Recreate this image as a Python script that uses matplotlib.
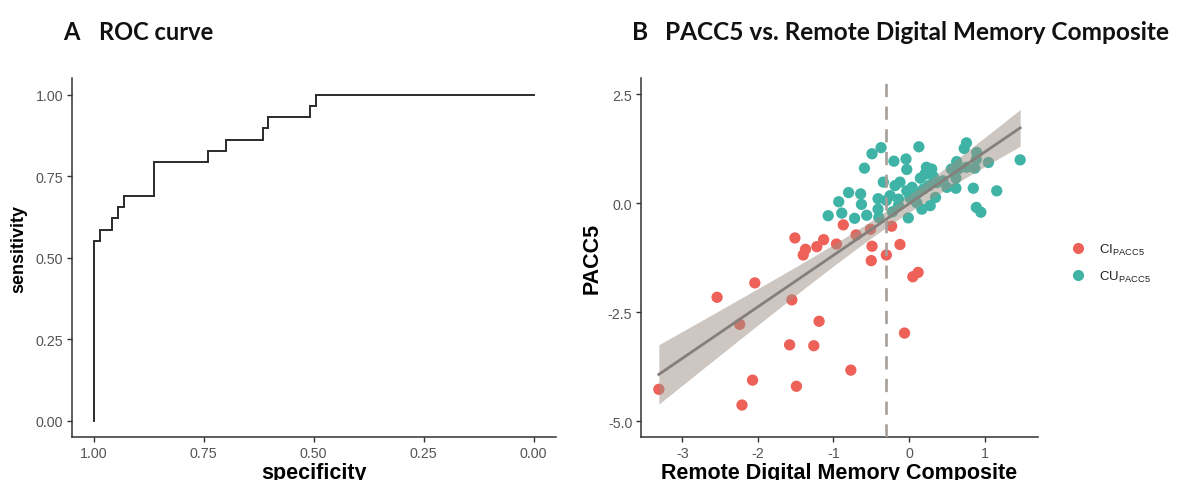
import numpy as np
import matplotlib
matplotlib.use("Agg")
import matplotlib.pyplot as plt
from matplotlib.lines import Line2D

plt.rcParams['font.family'] = ['Liberation Sans', 'DejaVu Sans']

# ---------------- data ----------------
# ROC path (specificity, sensitivity)
roc_specificity = [1.000, 1.000, 0.986, 0.986, 0.959, 0.959, 0.945, 0.945, 0.931, 0.931,
                   0.864, 0.864, 0.740, 0.740, 0.699, 0.699, 0.616, 0.616, 0.603, 0.603,
                   0.508, 0.508, 0.494, 0.494, 0.000]
roc_sensitivity = [0.000, 0.552, 0.552, 0.586, 0.586, 0.621, 0.621, 0.655, 0.655, 0.690,
                   0.690, 0.793, 0.793, 0.828, 0.828, 0.862, 0.862, 0.897, 0.897, 0.931,
                   0.931, 0.966, 0.966, 1.000, 1.000]
roc_ticks = [0.00, 0.25, 0.50, 0.75, 1.00]
roc_ticklabels = ["0.00", "0.25", "0.50", "0.75", "1.00"]

# Scatter: impaired (CI) group
ci_x = [-3.31, -2.54, -2.24, -2.21, -2.04, -2.07, -1.55, -1.58, -1.49, -1.51,
        -1.37, -1.40, -1.22, -1.13, -1.19, -1.26, -0.96, -0.87, -0.77, -0.70,
        -0.51, -0.49, -0.50, -0.30, -0.23, -0.12, -0.06, 0.05, 0.12]
ci_y = [-4.27, -2.16, -2.78, -4.63, -1.83, -4.06, -2.22, -3.25, -4.20, -0.80,
        -1.06, -1.19, -1.00, -0.84, -2.71, -3.27, -0.94, -0.50, -3.83, -0.73,
        -0.60, -0.99, -1.32, -1.19, -0.53, -0.95, -2.98, -1.69, -1.59]

# Scatter: unimpaired (CU) group
cu_x = [-1.07, -0.93, -0.89, -0.80, -0.72, -0.64, -0.63, -0.59, -0.56, -0.49,
        -0.37, -0.41, -0.41, -0.40, -0.34, -0.30, -0.25, -0.20, -0.185, -0.12,
        -0.14, -0.14, -0.22, -0.04, -0.03, -0.03, 0.01, 0.04, -0.01, 0.10,
        0.12, 0.13, 0.15, 0.17, 0.19, 0.21, 0.23, 0.26, 0.28, 0.30,
        0.32, 0.28, 0.35, 0.37, 0.45, 0.56, 0.63, 0.65, 0.62, 0.62,
        0.73, 0.76, 0.76, 0.87, 0.895, 0.89, 0.85, 1.05, 1.16, 0.89,
        0.95, 1.47, 0.50, 0.08]
cu_y = [-0.29, 0.03, -0.23, 0.24, -0.35, 0.21, -0.03, 0.80, -0.28, 1.13,
        1.27, 0.10, -0.14, -0.33, 0.48, 0.06, 0.17, 0.96, 0.40, 0.48,
        0.09, -0.06, -0.20, 1.01, 0.77, 0.28, 0.13, 0.36, -0.34, 0.01,
        0.24, 1.29, 0.57, -0.14, 0.32, 0.66, 0.82, 0.40, 0.70, 0.78,
        0.61, -0.06, 0.13, 0.47, 0.51, 0.78, 0.95, 0.78, 0.57, 0.34,
        1.25, 1.38, 0.82, 0.80, 1.16, 1.00, 0.34, 0.93, 0.28, -0.10,
        -0.21, 0.99, 0.36, 0.20]

cutoff = -0.30
sc_xticks = [-3, -2, -1, 0, 1]
sc_xticklabels = ["-3", "-2", "-1", "0", "1"]
sc_yticks = [-5.0, -2.5, 0.0, 2.5]
sc_yticklabels = ["-5.0", "-2.5", "0.0", "2.5"]
group_labels = [r"CI$_{\mathregular{PACC5}}$", r"CU$_{\mathregular{PACC5}}$"]

# ---------------- styling ----------------
RED = "#EE6158"
TEAL = "#3FB4A6"
SPINE = "#333333"
TICKLAB = "#555555"

fig = plt.figure(figsize=(11.78, 4.81), dpi=100)
W, H = 1178, 481

def add_ax(l, r, t, b):
    return fig.add_axes([l / W, (H - b) / H, (r - l) / W, (b - t) / H])

def style(ax):
    for s in ["top", "right"]:
        ax.spines[s].set_visible(False)
    for s in ["left", "bottom"]:
        ax.spines[s].set_color(SPINE)
        ax.spines[s].set_linewidth(1.1)
    ax.tick_params(axis="both", length=3.5, width=1.0, color=SPINE,
                   labelcolor=TICKLAB, labelsize=10.3, pad=2.5)

# ROC panel
ax1 = add_ax(71.7, 555.7, 79.3, 438.3)
style(ax1)
ax1.plot(roc_specificity, roc_sensitivity, color="#2B2B2B", lw=1.4,
         solid_joinstyle="miter")
ax1.set_xlim(1.05, -0.05)
ax1.set_ylim(-0.05, 1.05)
ax1.set_xticks(roc_ticks)
ax1.set_xticklabels(roc_ticklabels)
ax1.set_yticks(roc_ticks)
ax1.set_yticklabels(roc_ticklabels)
ax1.set_xlabel("specificity", fontsize=15.5, fontweight="bold", labelpad=1.5)
ax1.set_ylabel("sensitivity", fontsize=13, fontweight="bold", labelpad=6)
ax1.yaxis.label.set_y(0.527)

# Scatter panel
ax2 = add_ax(640.7, 1038, 79.3, 438.3)
style(ax2)
ax2.scatter(ci_x, ci_y, s=66, color=RED, edgecolors="none", zorder=2)
ax2.scatter(cu_x, cu_y, s=66, color=TEAL, edgecolors="none", zorder=2)

allx = np.array(ci_x + cu_x)
ally = np.array(ci_y + cu_y)
n = len(allx)
slope, intercept = np.polyfit(allx, ally, 1)
xs = np.linspace(allx.min(), allx.max(), 80)
fit = intercept + slope * xs
resid = ally - (intercept + slope * allx)
s_err = np.sqrt(np.sum(resid ** 2) / (n - 2))
sxx = np.sum((allx - allx.mean()) ** 2)
se = s_err * np.sqrt(1.0 / n + (xs - allx.mean()) ** 2 / sxx)
tval = 1.99
ax2.fill_between(xs, fit - tval * se, fit + tval * se, color="#9E8F84",
                 alpha=0.5, lw=0, zorder=3)
ax2.plot(xs, fit, color="#857F7B", lw=2.0, zorder=4)
ax2.axvline(cutoff, color="#A69E99", lw=1.9, linestyle=(0, (5, 3.6)), zorder=5)

ax2.set_xlim(-3.55, 1.706)
ax2.set_ylim(-5.37, 2.86)
ax2.set_xticks(sc_xticks)
ax2.set_xticklabels(sc_xticklabels)
ax2.set_yticks(sc_yticks)
ax2.set_yticklabels(sc_yticklabels)
ax2.set_xlabel("Remote Digital Memory Composite", fontsize=15.5,
               fontweight="bold", labelpad=1.5)
ax2.set_ylabel("PACC5", fontsize=15.5, fontweight="bold", labelpad=4)

handles = [Line2D([], [], marker="o", linestyle="none", markersize=8,
                  markerfacecolor=c, markeredgecolor="none") for c in (RED, TEAL)]
fig.legend(handles, group_labels, loc="center left",
           bbox_to_anchor=(1053 / W, (H - 264) / H), frameon=False,
           fontsize=9.5, handletextpad=0.6, labelspacing=0.9,
           labelcolor="#222222")

# Panel titles
tfont = dict(family=["Lato", "DejaVu Sans"], fontweight="bold",
             color="#111111", va="baseline")
fig.text(63 / W, (H - 40) / H, "A", fontsize=17, **tfont)
fig.text(99 / W, (H - 40) / H, "ROC curve", fontsize=17, **tfont)
fig.text(632 / W, (H - 40) / H, "B", fontsize=17.6, **tfont)
fig.text(665 / W, (H - 40) / H, "PACC5 vs. Remote Digital Memory Composite",
         fontsize=17.6, **tfont)

fig.savefig("out.png", dpi=100)
